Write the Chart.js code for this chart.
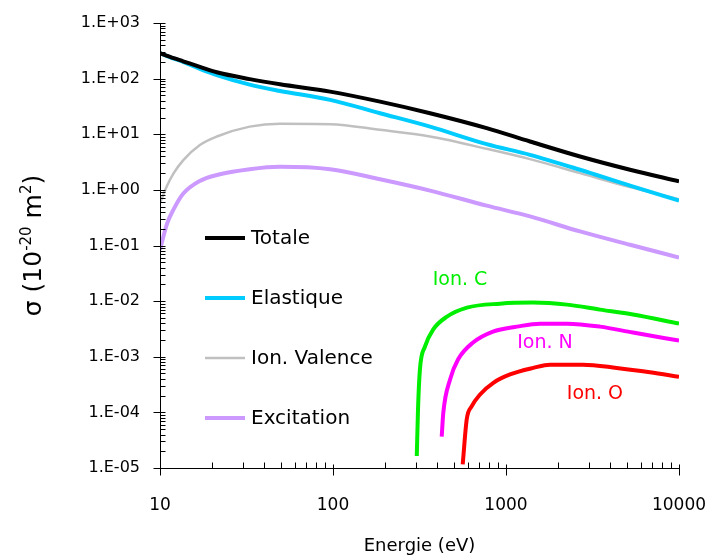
<!DOCTYPE html>
<html>
<head>
<meta charset="utf-8">
<script src="https://cdn.jsdelivr.net/npm/chart.js@4.4.1/dist/chart.umd.min.js"></script>
<style>
  html, body { margin: 0; padding: 0; background: #fff; }
</style>
</head>
<body>
<canvas id="sigma" width="712" height="560"></canvas>
<script>
// energies (eV) for the four main cross sections
const energies   = [10, 11, 12, 13.6, 17, 21.3, 33, 49.4, 96.2, 187, 364, 773, 1377, 2680, 5210, 10000];
const totale     = [286, 257, 233, 205, 163, 130, 98, 79, 58.4, 38.6, 23.9, 12.9, 7.4, 3.98, 2.30, 1.42];
const elastique  = [286, 255, 230, 200, 150, 116, 78, 60, 41.5, 23.9, 13.7, 6.64, 4.27, 2.30, 1.19, 0.645];
const ionValence = [0.58, 1.2, 2.0, 3.4, 6.4, 9.1, 13.7, 15.5, 15.2, 12.0, 9.1, 5.47, 3.57, 2.0, 1.12, 0.68];
const excitation = [0.084, 0.25, 0.45, 0.85, 1.45, 1.85, 2.35, 2.6, 2.35, 1.55, 0.97, 0.52, 0.333, 0.179, 0.103, 0.061];

// inner-shell ionisation, each from its own threshold
const eIonC = [305, 310, 318, 340, 379, 456, 595, 923, 1432, 2253, 3493, 5420, 10000];
const ionC  = [1.64e-5, 1.13e-4, 5.9e-4, 1.52e-3, 3.08e-3, 5.27e-3, 7.64e-3, 9.0e-3, 9.4e-3, 8.65e-3, 7.03e-3, 5.73e-3, 3.94e-3];
const eIonN = [425, 434, 475, 528, 645, 841, 1158, 1574, 2253, 3493, 5420, 10000];
const ionN  = [3.65e-5, 9.8e-5, 3.9e-4, 8.9e-4, 1.8e-3, 2.83e-3, 3.48e-3, 3.94e-3, 3.94e-3, 3.48e-3, 2.72e-3, 1.95e-3];
const eIonO = [562, 593, 634, 708, 845, 1055, 1439, 1796, 2786, 4365, 6793, 10000];
const ionO  = [1.16e-5, 7.5e-5, 1.29e-4, 2.1e-4, 3.4e-4, 4.8e-4, 6.3e-4, 7.2e-4, 7.2e-4, 6.3e-4, 5.27e-4, 4.36e-4];

const xTicks = [10, 100, 1000, 10000];
const yTicks = [1e-5, 1e-4, 1e-3, 1e-2, 1e-1, 1, 10, 100, 1000];

const FONT = "'DejaVu Sans', sans-serif";

function pts(xs, ys) {
  return xs.map((e, i) => ({ x: e, y: ys[i] }));
}

function sci(v) {
  const p = Math.round(Math.log10(v));
  return '1.E' + (p < 0 ? '-' : '+') + String(Math.abs(p)).padStart(2, '0');
}

function curve(label, xs, ys, color, width) {
  return {
    label: label,
    data: pts(xs, ys),
    borderColor: color,
    backgroundColor: color,
    borderWidth: width,
    pointRadius: 0,
    cubicInterpolationMode: 'monotone',
    fill: false
  };
}

// axis lines, decade ticks across the axis, minor ticks inside
const axisTicks = {
  id: 'axisTicks',
  afterDraw(chart) {
    const { ctx, chartArea: a, scales: { x, y } } = chart;
    ctx.save();
    ctx.strokeStyle = '#000';
    ctx.lineWidth = 1;
    ctx.beginPath();
    const ax = Math.round(a.left) + 0.5;
    const ay = Math.round(a.bottom) + 0.5;
    ctx.moveTo(ax, a.top);
    ctx.lineTo(ax, ay);
    ctx.lineTo(a.right, ay);
    for (let d = -5; d <= 3; d++) {
      for (let m = 1; m <= 9; m++) {
        const v = m * Math.pow(10, d);
        if (v > y.max * 1.0001) break;
        const py = Math.round(y.getPixelForValue(v)) + 0.5;
        ctx.moveTo(m === 1 ? ax - 7 : ax, py);
        ctx.lineTo(ax + 5, py);
      }
    }
    for (let d = 1; d <= 4; d++) {
      for (let m = 1; m <= 9; m++) {
        const v = m * Math.pow(10, d);
        if (v > x.max * 1.0001) break;
        const px = Math.round(x.getPixelForValue(v)) + 0.5;
        ctx.moveTo(px, m === 1 ? ay + 7 : ay);
        ctx.lineTo(px, ay - (m === 1 ? 4 : 6));
      }
    }
    ctx.stroke();
    ctx.restore();
  }
};

// legend lines stacked inside the plot, on the left
const sideLegend = {
  id: 'sideLegend',
  afterDraw(chart) {
    const { ctx, chartArea: a } = chart;
    ctx.save();
    ctx.font = '20px ' + FONT;
    ctx.textBaseline = 'middle';
    ctx.fillStyle = '#000';
    chart.data.datasets.slice(0, 4).forEach((ds, i) => {
      const yy = a.top + 215 + i * 60;
      ctx.strokeStyle = ds.borderColor;
      ctx.lineWidth = ds.borderWidth;
      ctx.beginPath();
      ctx.moveTo(a.left + 45, yy);
      ctx.lineTo(a.left + 85, yy);
      ctx.stroke();
      ctx.fillText(ds.label, a.left + 91, yy + 1);
    });
    ctx.restore();
  }
};

// shell labels placed in data coordinates
const shellLabels = [
  { text: 'Ion. C', x: 542, y: 2.43e-2, color: '#00ee00' },
  { text: 'Ion. N', x: 1679, y: 1.73e-3, color: '#ff00ff' },
  { text: 'Ion. O', x: 3266, y: 2.1e-4, color: '#ff0000' }
];
const shellText = {
  id: 'shellText',
  afterDraw(chart) {
    const { ctx, scales: { x, y } } = chart;
    ctx.save();
    ctx.font = '19px ' + FONT;
    ctx.textAlign = 'center';
    ctx.textBaseline = 'middle';
    shellLabels.forEach(l => {
      ctx.fillStyle = l.color;
      ctx.fillText(l.text, x.getPixelForValue(l.x), y.getPixelForValue(l.y));
    });
    ctx.restore();
  }
};

// y title with raised exponents
const yTitle = {
  id: 'yTitle',
  afterDraw(chart) {
    const { ctx, chartArea: a } = chart;
    const parts = [
      ['\u03c3 (10', 25, 0],
      ['-20', 15, -10],
      [' m', 25, 0],
      ['2', 15, -10],
      [')', 25, 0]
    ];
    ctx.save();
    let total = 0;
    parts.forEach(p => { ctx.font = p[1] + 'px ' + FONT; total += ctx.measureText(p[0]).width; });
    ctx.translate(32, (a.top + a.bottom) / 2);
    ctx.rotate(-Math.PI / 2);
    ctx.fillStyle = '#000';
    ctx.textBaseline = 'alphabetic';
    let cx = -total / 2;
    parts.forEach(p => {
      ctx.font = p[1] + 'px ' + FONT;
      ctx.fillText(p[0], cx, 9 + p[2]);
      cx += ctx.measureText(p[0]).width;
    });
    ctx.restore();
  }
};

new Chart(document.getElementById('sigma'), {
  type: 'line',
  data: {
    datasets: [
      curve('Totale', energies, totale, '#000000', 4),
      curve('Elastique', energies, elastique, '#00ccff', 4),
      curve('Ion. Valence', energies, ionValence, '#c0c0c0', 2.5),
      curve('Excitation', energies, excitation, '#cc99ff', 4),
      curve('Ion. C', eIonC, ionC, '#00ee00', 4),
      curve('Ion. N', eIonN, ionN, '#ff00ff', 4),
      curve('Ion. O', eIonO, ionO, '#ff0000', 4)
    ]
  },
  options: {
    responsive: false,
    animation: false,
    layout: { padding: { left: 0, right: 33, top: 23, bottom: 0 } },
    plugins: {
      legend: { display: false },
      tooltip: { enabled: false }
    },
    scales: {
      x: {
        type: 'logarithmic',
        min: 10,
        max: 10000,
        grid: { display: false, drawTicks: false },
        border: { display: false },
        afterBuildTicks: s => { s.ticks = xTicks.map(v => ({ value: v })); },
        afterFit: s => {
          s.height = 92;
          s.paddingLeft = 0;
          s.paddingRight = 0;
        },
        ticks: {
          autoSkip: false,
          maxRotation: 0,
          padding: 27,
          color: '#000',
          font: { family: FONT, size: 17 },
          callback: v => String(v)
        },
        title: {
          display: true,
          text: 'Energie (eV)',
          color: '#000',
          font: { family: FONT, size: 18 },
          padding: { top: 0, bottom: 3 }
        }
      },
      y: {
        type: 'logarithmic',
        min: 1e-5,
        max: 1e3,
        grid: { display: false, drawTicks: false },
        border: { display: false },
        afterBuildTicks: s => { s.ticks = yTicks.map(v => ({ value: v })); },
        afterFit: s => {
          s.width = 160;
          s.paddingTop = 0;
          s.paddingBottom = 0;
        },
        ticks: {
          autoSkip: false,
          padding: 20,
          color: '#000',
          font: { family: FONT, size: 16 },
          callback: v => sci(v)
        }
      }
    }
  },
  plugins: [axisTicks, sideLegend, shellText, yTitle]
});
</script>
</body>
</html>
